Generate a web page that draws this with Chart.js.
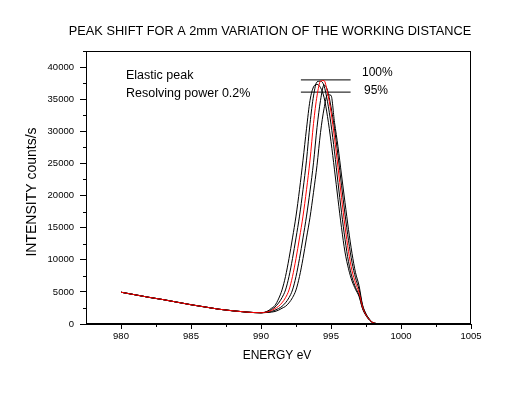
<!DOCTYPE html>
<html lang="en">
<head>
  <meta charset="UTF-8" />
  <title>Peak shift</title>
  <script src="https://cdn.jsdelivr.net/npm/chart.js"></script>
  <style>
    html, body { margin: 0; padding: 0; background: #fff; }
    canvas { display: block; }
  </style>
</head>
<body>
  <canvas id="peakChart" width="507" height="395"></canvas>

  <script>
    // energy grid (eV), shared by all five spectra
    const energies = [
      980, 981, 982, 983, 984, 985, 986, 987, 988, 989, 990,
      990.5, 990.75, 991, 991.25, 991.5, 991.75, 992, 992.25, 992.5, 992.75,
      993, 993.25, 993.5, 993.75, 994, 994.25, 994.5, 994.75, 995, 995.25,
      995.5, 995.75, 996, 996.25, 996.5, 996.75, 997, 997.25, 997.5, 997.75, 998,
      998.5, 999, 1000, 1002, 1005
    ];

    // intensities (counts/s), left-most peak first, red one in the middle
    const curve1 = [
      4950, 4550, 4150, 3800, 3400, 3000, 2650, 2300, 2050, 1850, 1750,
      2050, 2450, 2900, 3900, 5300, 7400, 10200, 13400, 16800, 20900,
      25500, 30400, 34800, 36900, 37300, 36800, 35300, 32300, 28400, 24000,
      19400, 15000, 11200, 8600, 6700, 5400, 4300, 2400, 1300, 600, 180,
      40, 10, 0, 0, 0
    ];
    const curve2 = [
      4950, 4550, 4150, 3800, 3400, 3000, 2650, 2300, 2050, 1850, 1750,
      1950, 2250, 2650, 3250, 4100, 5300, 7400, 10200, 13400, 16800,
      20900, 25500, 31200, 35500, 37700, 37800, 37100, 34600, 31100, 26800,
      22000, 17400, 13200, 9700, 7300, 5700, 4500, 2500, 1350, 630, 190,
      40, 10, 0, 0, 0
    ];
    const curve3 = [
      4950, 4550, 4150, 3800, 3400, 3000, 2650, 2300, 2050, 1850, 1750,
      1900, 2100, 2400, 2750, 3300, 4100, 5300, 7400, 10200, 13400,
      16800, 20900, 25500, 31200, 35500, 37800, 37900, 36000, 33000, 29000,
      24400, 19700, 15200, 11300, 8300, 6400, 4900, 2650, 1400, 650, 200,
      40, 10, 0, 0, 0
    ];
    const curve4 = [
      4950, 4550, 4150, 3800, 3400, 3000, 2650, 2300, 2050, 1850, 1750,
      1850, 1950, 2150, 2400, 2750, 3300, 4100, 5300, 7400, 10200,
      13400, 16800, 20700, 25100, 30600, 34800, 37200, 36400, 33800, 30400,
      26200, 21600, 17100, 13000, 9600, 7200, 5400, 2850, 1500, 700, 210,
      40, 10, 0, 0, 0
    ];
    const curve5 = [
      4950, 4550, 4150, 3800, 3400, 3000, 2650, 2300, 2050, 1850, 1750,
      1800, 1850, 1950, 2150, 2450, 2750, 3300, 4100, 5300, 7400,
      10200, 13400, 16600, 20500, 24700, 29800, 33500, 35700, 35600, 31400,
      27600, 23200, 18900, 14700, 11000, 8000, 6000, 3000, 1600, 750, 220,
      40, 10, 0, 0, 0
    ];

    // the two reference levels drawn over the peaks
    const levelEnergies = [992.85, 996.4];
    const level100 = [38000, 38000];
    const level95 = [36100, 36100];

    const xTicks = [980, 985, 990, 995, 1000, 1005];
    const xMinorTicks = [982.5, 987.5, 992.5, 997.5, 1002.5];
    const yTicks = [0, 5000, 10000, 15000, 20000, 25000, 30000, 35000, 40000];
    const yMinorTicks = [2500, 7500, 12500, 17500, 22500, 27500, 32500, 37500, 42500];

    const FONT = '"Liberation Sans", Arial, sans-serif';
    Chart.defaults.font.family = FONT;
    Chart.defaults.color = '#000';

    const toPoints = (xs, ys) => xs.map((x, i) => ({ x: x, y: ys[i] }));

    function spectrum(values, color) {
      return {
        data: toPoints(energies, values),
        borderColor: color,
        borderWidth: 1,
        pointRadius: 0,
        fill: false,
        cubicInterpolationMode: 'monotone'
      };
    }

    // frame, minor ticks and the free text of the plot
    const decorations = {
      id: 'decorations',
      afterDraw(chart) {
        const { ctx, chartArea: a, scales: { x, y } } = chart;
        ctx.save();
        ctx.strokeStyle = '#000';
        ctx.lineWidth = 1;
        ctx.strokeRect(Math.round(a.left) + 0.5, Math.round(a.top) + 0.5,
          Math.round(a.right - a.left) - 1, Math.round(a.bottom - a.top) - 1);

        ctx.beginPath();
        xMinorTicks.forEach(v => {
          const px = Math.round(x.getPixelForValue(v)) + 0.5;
          ctx.moveTo(px, a.bottom);
          ctx.lineTo(px, a.bottom + 3);
        });
        yMinorTicks.forEach(v => {
          const py = Math.round(y.getPixelForValue(v)) + 0.5;
          ctx.moveTo(a.left, py);
          ctx.lineTo(a.left - 3, py);
        });
        ctx.stroke();

        ctx.fillStyle = '#000';
        ctx.textBaseline = 'middle';

        ctx.font = '12.75px ' + FONT;
        ctx.textAlign = 'center';
        ctx.fillText('PEAK SHIFT FOR A 2mm VARIATION OF THE WORKING DISTANCE', 270, 31);

        ctx.font = '12px ' + FONT;
        ctx.fillText('ENERGY eV', 277, 356);

        ctx.save();
        ctx.translate(32, 192);
        ctx.rotate(-Math.PI / 2);
        ctx.font = '14px ' + FONT;
        ctx.fillText('INTENSITY counts/s', 0, 0);
        ctx.restore();

        ctx.textAlign = 'left';
        ctx.font = '12.5px ' + FONT;
        ctx.fillText('Elastic peak', 126, 76);
        ctx.fillText('Resolving power 0.2%', 126, 94);
        ctx.font = '12px ' + FONT;
        ctx.fillText('100%', 362, 73);
        ctx.fillText('95%', 364, 91);
        ctx.restore();
      }
    };

    new Chart(document.getElementById('peakChart'), {
      type: 'line',
      data: {
        datasets: [
          spectrum(curve3, '#ff0000'),
          spectrum(curve1, '#000'),
          spectrum(curve2, '#000'),
          spectrum(curve4, '#000'),
          spectrum(curve5, '#000'),
          { data: toPoints(levelEnergies, level100), borderColor: '#000', borderWidth: 1, pointRadius: 0 },
          { data: toPoints(levelEnergies, level95), borderColor: '#000', borderWidth: 1, pointRadius: 0 }
        ]
      },
      options: {
        responsive: false,
        animation: false,
        layout: { padding: { left: 0, top: 51, right: 36, bottom: 0 } },
        plugins: { legend: { display: false }, tooltip: { enabled: false } },
        scales: {
          x: {
            type: 'linear',
            min: 977.5,
            max: 1005,
            afterBuildTicks: s => { s.ticks = xTicks.map(v => ({ value: v })); },
            afterFit: s => { s.height = 71; },
            grid: { drawOnChartArea: false, color: '#000', tickLength: 5 },
            border: { color: '#000' },
            ticks: { padding: 2, font: { size: 9.5 }, color: '#000', maxRotation: 0, callback: v => String(v) }
          },
          y: {
            min: 0,
            max: 42500,
            afterBuildTicks: s => { s.ticks = yTicks.map(v => ({ value: v })); },
            afterFit: s => { s.width = 86; },
            grid: { drawOnChartArea: false, color: '#000', tickLength: 6 },
            border: { color: '#000' },
            ticks: { padding: 6, font: { size: 9.5 }, color: '#000', callback: v => String(v) }
          }
        }
      },
      plugins: [decorations]
    });
  </script>
</body>
</html>
